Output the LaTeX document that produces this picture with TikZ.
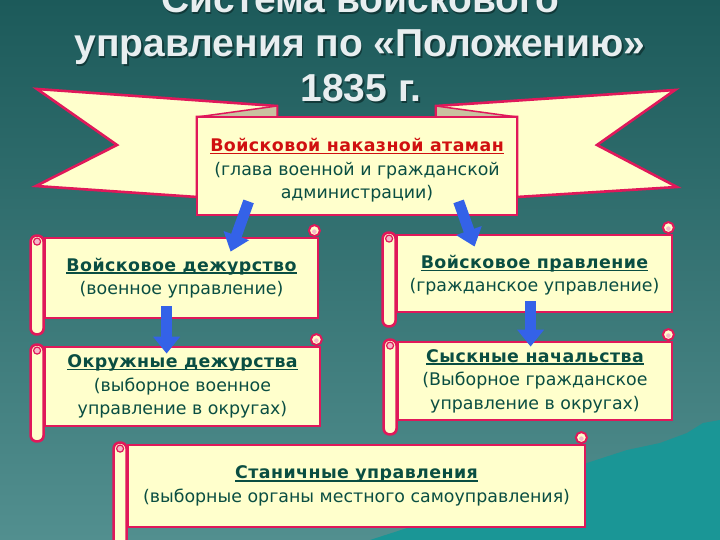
\documentclass[tikz,border=0pt]{standalone}
\usepackage{fontspec}
\setmainfont{DejaVu Sans}
\newfontfamily\titlefont{Liberation Sans}
\usetikzlibrary{calc,arrows.meta}
\definecolor{bgtop}{HTML}{1C5A5A}
\definecolor{bgbot}{HTML}{528F8F}
\definecolor{mount}{HTML}{1A9696}
\definecolor{paper}{HTML}{FFFFCC}
\definecolor{bord}{HTML}{E0185A}
\definecolor{fold}{HTML}{C9C2A0}
\definecolor{txt}{HTML}{0A4E42}
\definecolor{headred}{HTML}{D01010}
\definecolor{ttl}{HTML}{E8EEF0}
\definecolor{ttlsh}{HTML}{123A3A}
\definecolor{arrowblue}{HTML}{3462E8}
\definecolor{curlpink}{HTML}{F6B8C8}
\newcommand\ulx[1]{\setbox0\hbox{#1}\rlap{\rule[-2.8pt]{\wd0}{1.5pt}}\box0}
\newcommand\hd[1]{{\bfseries\addfontfeature{LetterSpace=2.5}\ulx{#1}}}
\newcommand\scrolldeco[2]{%
  \draw[tube,rounded corners=6pt] ($(#1.north west)+(-13,-1)$) rectangle ($(#1.south west)+(0,#2)$);
  \filldraw[curl] ($(#1.north west)+(-6.5,5)$) circle (3.5);
  \filldraw[bord edge] ($(#1.north east)+(-5,-6)$) circle (5.5);
  \fill[curlpink] ($(#1.north east)+(-5,-5)$) circle (2.3);
}
\begin{document}
\begin{tikzpicture}[x=1pt,y=-1pt,
  title/.style={font=\titlefont\bfseries\fontsize{39}{44}\selectfont,text=ttl,anchor=base,inner sep=0},
  titlesh/.style={title,text=ttlsh},
  rib/.style={fill=paper,draw=bord,line width=2.6pt,line join=miter},
  foldtri/.style={fill=fold,draw=bord,line width=1.5pt},
  scroll/.style={fill=paper,draw=bord,line width=2.8pt,inner sep=0,align=center,
    text=txt,font=\fontsize{17.4}{23.5}\selectfont},
  tube/.style={fill=paper,draw=bord,line width=2.6pt},
  curl/.style={fill=curlpink,draw=bord,line width=1.2pt},
  bord edge/.style={fill=paper,draw=bord,line width=2pt},
  barrow/.style={draw=arrowblue,line width=11pt,-{Triangle[width=26pt,length=17pt]}}
]
\useasboundingbox (0,0) rectangle (720,540);
\shade[top color=bgtop,bottom color=bgbot] (0,0) rectangle (720,540);
\fill[mount] (370,540) -- (432,520) -- (520,488) -- (590,462) -- (627,450) -- (660,443) -- (687,433) -- (703,423) -- (720,420) -- (720,540) -- cycle;

% title
\node[titlesh] at (361.5,14.5) {Система войскового};
\node[title] (t1) at (360,13) {Система войскового};
\node[titlesh] at (361.5,58.5) {управления по «Положению»};
\node[title] (t2) at (360,57) {управления по «Положению»};
\node[titlesh] at (362.5,103.5) {1835 г.};
\node[title] (t3) at (361,102) {1835 г.};

% ribbon
\filldraw[rib] (37,89) -- (277,106) -- (277,117) -- (197,117) -- (197,197) -- (36,186) -- (117,145) -- cycle;
\filldraw[rib] (675,90) -- (436,106) -- (436,117) -- (517,117) -- (517,197) -- (677,187) -- (597,145) -- cycle;
\filldraw[foldtri] (197,117) -- (277,106) -- (277,117) -- cycle;
\filldraw[foldtri] (517,117) -- (436,106) -- (436,117) -- cycle;

\node[scroll,minimum width=320,minimum height=98] (atam) at (357,166)
  {\rule{0pt}{22pt}{\color{headred}\hd{Войсковой наказной атаман}}\\(глава военной и гражданской\\администрации)};

\node[scroll,minimum width=273,minimum height=80] (b1) at (181.5,278)
  {\hd{Войсковое дежурство}\\(военное управление)};
\scrolldeco{b1}{15}
\node[scroll,minimum width=275,minimum height=77] (b2) at (534.5,273.5)
  {\rule{0pt}{17pt}\hd{Войсковое правление}\\(гражданское управление)};
\scrolldeco{b2}{13}
\node[scroll,minimum width=275,minimum height=79] (b3) at (182.5,386.5)
  {\hd{Окружные дежурства}\\(выборное военное\\управление в округах)};
\scrolldeco{b3}{14}
\node[scroll,minimum width=274,minimum height=78] (b4) at (535,381)
  {\hd{Сыскные начальства}\\(Выборное гражданское\\управление в округах)};
\scrolldeco{b4}{13}
\node[scroll,minimum width=457,minimum height=82] (b5) at (356.5,486)
  {\hd{Станичные управления}\\(выборные органы местного самоуправления)};
\scrolldeco{b5}{20}

% arrows
\draw[barrow] ($(atam.south west)+(53,-15)$) -- ($(b1.north west)+(187,15)$);
\draw[barrow] ($(atam.south west)+(263,-15)$) -- ($(b2.north west)+(79,13)$);
\draw[barrow] ($(b1.south west)+(123,-13)$) -- ($(b3.north west)+(123,8)$);
\draw[barrow] ($(b2.south west)+(135,-12)$) -- ($(b4.north west)+(134,6)$);
\end{tikzpicture}
\end{document}
